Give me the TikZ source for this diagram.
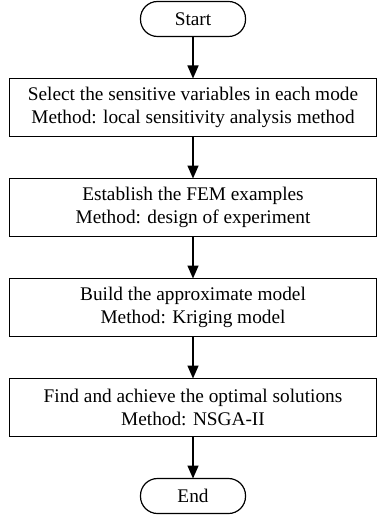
\documentclass[tikz,border=0pt]{standalone}
\usepackage{fontspec}
\setmainfont{Liberation Serif}
\usetikzlibrary{
  positioning,
  arrows.meta
}

\begin{document}
\begin{tikzpicture}[x=1bp,y=1bp]
  \tikzset{
    terminal/.style = {draw, line width=1.2bp, rounded corners=17bp,
      minimum width=105bp, minimum height=35bp, inner sep=0pt, outer sep=0pt},
    stepbox/.style = {draw, line width=1.2bp, align=center,
      minimum width=367bp, minimum height=58bp, inner sep=0pt, outer sep=0pt},
    flow/.style = {line width=1.5bp, -{Triangle[width=11bp,length=13bp]}},
    node distance=42bp,
    font=\fontsize{19.3bp}{22.5bp}\selectfont,
  }
  % fixed frame, same size as the reference
  \useasboundingbox (0,0) rectangle (376,-527);

  \node[terminal] (start) at (193,-19) {Start};
  \node[stepbox, below=of start] (select)
    {Select the sensitive variables in each mode\\
     Method: local sensitivity analysis method};
  \node[stepbox, below=of select] (fem)
    {Establish the FEM examples\\
     Method: design of experiment};
  \node[stepbox, below=of fem] (approx)
    {Build the approximate model\\
     Method: Kriging model};
  \node[stepbox, below=of approx] (optim)
    {Find and achieve the optimal solutions\\
     Method: NSGA-II};
  \node[terminal, below=of optim] (stop) {End};

  % arrows down the chain
  \foreach \a/\b in {start/select,select/fem,fem/approx,approx/optim,optim/stop}
    \draw[flow] (\a) -- (\b);
\end{tikzpicture}
\end{document}
